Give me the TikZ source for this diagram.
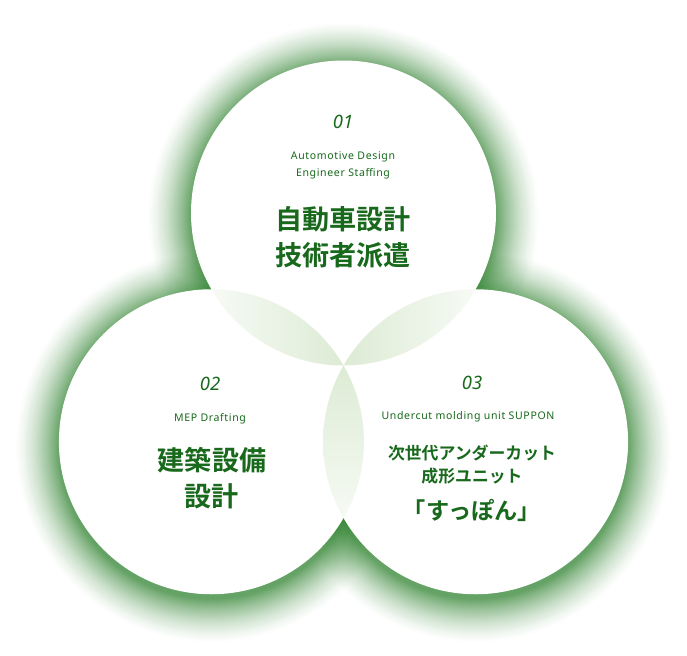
\documentclass[tikz,border=0pt]{standalone}
\usepackage{fontspec}
\setmainfont{Noto Sans}
\newfontfamily\subfont[LetterSpace=6]{Noto Sans}
\newfontfamily\jpfont[BoldFont={Noto Sans CJK JP Bold}]{Noto Sans CJK JP}
\definecolor{glowgreen}{RGB}{48,130,48}
\definecolor{textgreen}{RGB}{24,105,28}
\definecolor{lensgreen}{RGB}{220,235,212}
\definecolor{lenswhite}{RGB}{248,251,246}

\begin{document}
\begin{tikzpicture}[x=0.02cm, y=-0.02cm,
  glow/.style={fill=glowgreen, fill opacity=#1},
  disc/.style={fill=white},
  num/.style={text=textgreen, font=\itshape\fontsize{10.5}{12}\selectfont},
  sub/.style={text=textgreen, font=\subfont\fontsize{6}{9.6}\selectfont, align=center},
  title/.style={text=textgreen, font=\jpfont\bfseries\fontsize{15.4}{20.6}\selectfont, align=center},
  kana/.style={text=textgreen, font=\jpfont\bfseries\fontsize{9.6}{13}\selectfont, align=center}]
\useasboundingbox (0,0) rectangle (687,656);

% centres of the three circles
\coordinate (meet) at (343.5,365.5);
\coordinate (T) at (343.5,213);
\coordinate (L) at (211.4,441.75);
\coordinate (R) at (475.6,441.75);
\def\rad{152.5}

% green glow, one ring per pixel from outside in
\foreach \d in {44,...,0}{
  \pgfmathsetmacro\fa{0.74*(1-\d/45)^1.5}
  \pgfmathsetmacro\fb{0.74*(1-(\d+1)/45)^1.5}
  \pgfmathsetmacro\op{1-(1-\fa)/(1-\fb)}
  \foreach \c in {T,L,R}
    \fill[glow=\op] ([shift={(0,5)}]\c) circle (\rad+\d);
}

% white discs
\foreach \c in {T,L,R}
  \fill[disc] (\c) circle (\rad);

% overlaps
\begin{scope}
  \clip (T) circle (\rad);
  \clip (L) circle (\rad);
  \shade[left color=lenswhite, right color=lensgreen] (205,280) rectangle (346,370);
\end{scope}
\begin{scope}
  \clip (T) circle (\rad);
  \clip (R) circle (\rad);
  \shade[left color=lensgreen, right color=lenswhite] (341,280) rectangle (482,370);
\end{scope}
\begin{scope}
  \clip (L) circle (\rad);
  \clip (R) circle (\rad);
  \shade[top color=lensgreen, bottom color=lenswhite] (315,360) rectangle (372,530);
\end{scope}

% texts
\node[num] (num1) at (343,122) {01};
\node[sub] (sub1) at (343,165.5) {Automotive Design\\Engineer Staffing};
\node[title] (title1) at (343,237) {自動車設計\\技術者派遣};

\node[num] (num2) at (210,384) {02};
\node[sub] (sub2) at (210,419) {MEP Drafting};
\node[title] (title2) at (212,478.5) {建築設備\\設計};

\node[num] (num3) at (472,383) {03};
\node[sub] (sub3) at (468,417) {Undercut molding unit SUPPON};
\node[kana] (kana3) at (472,464.5) {次世代アンダーカット\\成形ユニット};
\node[text=textgreen, font=\jpfont\bfseries\fontsize{13.2}{15}\selectfont] (name3) at (472,510) {「すっぽん」};
\end{tikzpicture}
\end{document}
